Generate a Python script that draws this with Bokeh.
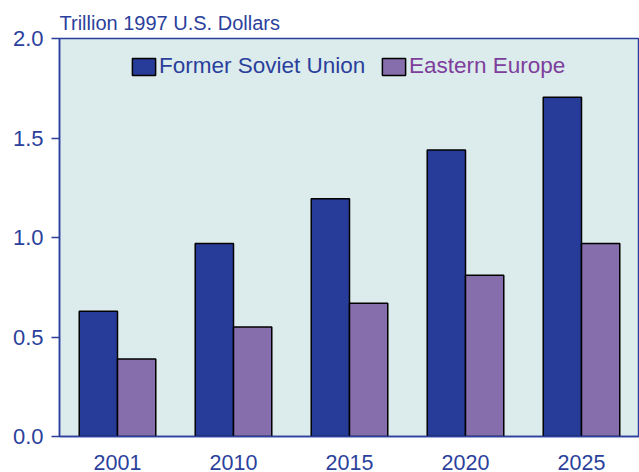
from bokeh.plotting import figure
from bokeh.models import FactorRange, Legend, LegendItem, FixedTicker, NumeralTickFormatter, Range1d
from bokeh.transform import dodge
from bokeh.embed import file_html
from bokeh.resources import INLINE

years = ["2001", "2010", "2015", "2020", "2025"]
former_soviet_union = [0.63, 0.97, 1.195, 1.44, 1.705]
eastern_europe = [0.39, 0.55, 0.67, 0.81, 0.97]
y_ticks = [0.0, 0.5, 1.0, 1.5, 2.0]

BLUE = "#273b98"
PURPLE = "#866dab"
TXT = "#2b3f9c"
PURPLE_TXT = "#7e3e9c"
FONT = "Liberation Sans"

p = figure(x_range=FactorRange(factors=years, range_padding=0), y_range=Range1d(0, 2.0),
           width=639, height=472, output_backend="svg", toolbar_location=None,
           min_border_left=59, min_border_right=0, min_border_bottom=34, min_border_top=38)
p.background_fill_color = "#dcecec"
p.border_fill_color = "white"
p.outline_line_color = TXT
p.outline_line_width = 1.5
p.xgrid.visible = False
p.ygrid.visible = False

data = dict(years=years, fsu=former_soviet_union, ee=eastern_europe)
r1 = p.vbar(x=dodge("years", -0.165, range=p.x_range), top="fsu", width=0.33, source=data,
            fill_color=BLUE, line_color="black", line_width=1.5)
r2 = p.vbar(x=dodge("years", 0.165, range=p.x_range), top="ee", width=0.33, source=data,
            fill_color=PURPLE, line_color="black", line_width=1.5)

p.title.text = "Trillion 1997 U.S. Dollars"
p.title.text_font = FONT
p.title.text_font_size = "20px"
p.title.text_font_style = "normal"
p.title.text_color = TXT
p.title.align = "left"
p.title.offset = 0
p.title.standoff = 9

ya = p.yaxis[0]
ya.ticker = FixedTicker(ticks=y_ticks)
ya.formatter = NumeralTickFormatter(format="0.0")
ya.major_label_text_font = FONT
ya.major_label_text_font_size = "22px"
ya.major_label_text_color = TXT
ya.axis_line_color = TXT
ya.axis_line_width = 1.5
ya.major_tick_line_color = TXT
ya.major_tick_line_width = 1.5
ya.major_tick_out = 8
ya.major_tick_in = 0
ya.minor_tick_line_color = None
ya.major_label_standoff = 8

xa = p.xaxis[0]
xa.major_label_text_font = FONT
xa.major_label_text_font_size = "21.5px"
xa.major_label_text_color = TXT
xa.axis_line_color = TXT
xa.axis_line_width = 1.5
xa.major_tick_line_color = None
xa.major_label_standoff = 12

leg1 = Legend(items=[LegendItem(label="Former Soviet Union", renderers=[r1])],
              location=(70, 357), label_text_color=TXT)
leg2 = Legend(items=[LegendItem(label="Eastern Europe", renderers=[r2])],
              location=(320, 357), label_text_color=PURPLE_TXT)
for lg in (leg1, leg2):
    lg.background_fill_alpha = 0
    lg.border_line_color = None
    lg.padding = 0
    lg.margin = 0
    lg.glyph_width = 29
    lg.glyph_height = 21
    lg.label_standoff = 1
    lg.label_text_font = FONT
    lg.label_text_font_size = "22.5px"
    lg.label_height = 17
    p.add_layout(lg, "center")

open("out.html", "w").write(file_html(p, INLINE))
